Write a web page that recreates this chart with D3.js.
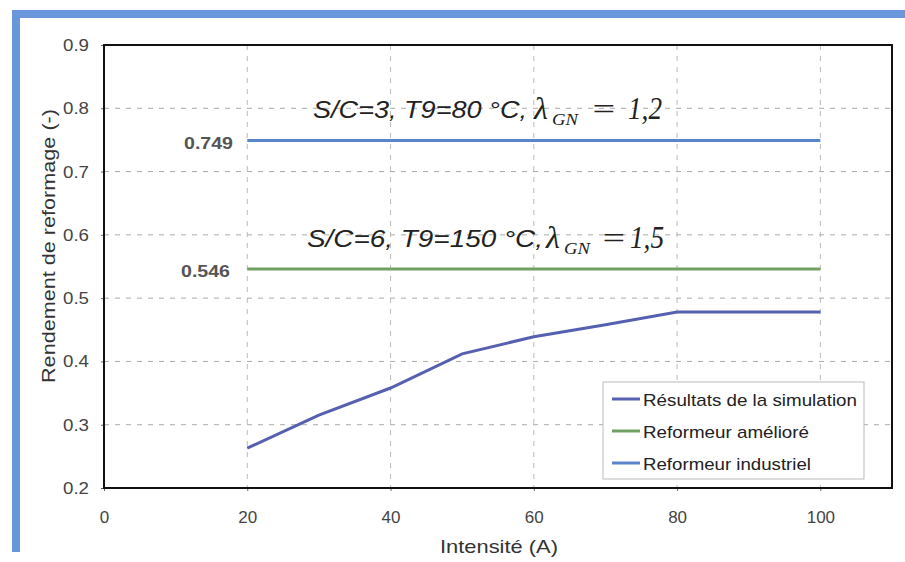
<!DOCTYPE html>
<html><head><meta charset="utf-8">
<script src="https://cdn.jsdelivr.net/npm/d3@7"></script>
<style>body{margin:0;background:#fff}svg{display:block}</style>
</head><body>
<svg id="c" width="905" height="562"></svg>
<script>
const xTicks = [0, 20, 40, 60, 80, 100];
const yTicks = [0.2, 0.3, 0.4, 0.5, 0.6, 0.7, 0.8, 0.9];
const simI = [20, 30, 40, 50, 60, 70, 80, 100];
const simR = [0.263, 0.315, 0.358, 0.412, 0.439, 0.458, 0.478, 0.478];
const refI = [20, 100];
const industriel = [0.749, 0.749];
const ameliore = [0.546, 0.546];
const legendNames = ["Résultats de la simulation", "Reformeur amélioré", "Reformeur industriel"];
const legendColors = ["#5560b0", "#72a062", "#5a84cc"];

const SANS = "Liberation Sans, Arial, sans-serif";
const SERIF = "Liberation Serif, Times New Roman, serif";
const svg = d3.select("#c");
const L = 104, R = 892, T = 45, B = 488;
const x = d3.scaleLinear().domain([0, 110]).range([L, R]);
const y = d3.scaleLinear().domain([0.2, 0.9]).range([B, T]);

// scan frame
svg.append("rect").attr("x", 12).attr("y", 10).attr("width", 893).attr("height", 8).attr("fill", "#6a96dc");
svg.append("rect").attr("x", 12).attr("y", 10).attr("width", 8).attr("height", 542).attr("fill", "#6a96dc");

// grid
const g = svg.append("g");
g.selectAll(".hg").data(yTicks.slice(1, -1)).join("line")
  .attr("x1", L).attr("x2", R).attr("y1", d => y(d)).attr("y2", d => y(d))
  .attr("stroke", "#aaa").attr("stroke-width", 1).attr("stroke-dasharray", "5,6");
g.selectAll(".vg").data(xTicks.slice(1)).join("line")
  .attr("y1", T).attr("y2", B).attr("x1", d => x(d)).attr("x2", d => x(d))
  .attr("stroke", "#bbb").attr("stroke-width", 1).attr("stroke-dasharray", "5,6");

// axes
const ax = svg.append("g").attr("transform", `translate(0,${B})`)
  .call(d3.axisBottom(x).tickValues(xTicks).tickSize(3).tickPadding(20).tickFormat(d3.format("d")));
const ay = svg.append("g").attr("transform", `translate(${L},0)`)
  .call(d3.axisLeft(y).tickValues(yTicks).tickSize(3).tickPadding(12).tickFormat(d3.format(".1f")));
[ax, ay].forEach(a => {
  a.select(".domain").remove();
  a.selectAll("text").attr("font-family", SANS).attr("font-size", 17).attr("fill", "#444");
  a.selectAll("line").attr("stroke", "#666");
});
ay.selectAll("text").attr("textLength", 26).attr("lengthAdjust", "spacingAndGlyphs");
svg.append("rect").attr("x", L).attr("y", T).attr("width", R - L).attr("height", B - T)
  .attr("fill", "none").attr("stroke", "#111").attr("stroke-width", 2);

// lines
const line = d3.line().x(d => x(d[0])).y(d => y(d[1]));
svg.append("path").datum(refI.map((v, i) => [v, industriel[i]])).attr("d", line)
  .attr("fill", "none").attr("stroke", legendColors[2]).attr("stroke-width", 3);
svg.append("path").datum(refI.map((v, i) => [v, ameliore[i]])).attr("d", line)
  .attr("fill", "none").attr("stroke", legendColors[1]).attr("stroke-width", 3);
svg.append("path").datum(simI.map((v, i) => [v, simR[i]])).attr("d", line)
  .attr("fill", "none").attr("stroke", legendColors[0]).attr("stroke-width", 3);

// value labels
[[industriel[0], 233], [ameliore[0], 230]].forEach(([v, xr]) => {
  svg.append("text").attr("x", xr).attr("y", y(v) + 8).attr("text-anchor", "end")
    .attr("font-family", SANS).attr("font-weight", "bold")
    .attr("font-size", 17).attr("fill", "#555")
    .attr("textLength", 49).attr("lengthAdjust", "spacingAndGlyphs")
    .text(d3.format(".3f")(v));
});

// annotations
function annot(x0, yb, main, mainLen, lx, ex, vx, val) {
  const gg = svg.append("g").attr("fill", "#222").attr("font-style", "italic");
  gg.append("text").attr("x", x0).attr("y", yb).attr("font-family", SANS).attr("font-size", 23)
    .attr("textLength", mainLen).attr("lengthAdjust", "spacingAndGlyphs").text(main);
  gg.append("text").attr("x", lx).attr("y", yb + 1).attr("font-family", SERIF).attr("font-size", 32).text("λ");
  gg.append("text").attr("x", lx + 18).attr("y", yb + 7).attr("font-family", SERIF).attr("font-size", 16)
    .attr("textLength", 26).attr("lengthAdjust", "spacingAndGlyphs").text("GN");
  gg.append("text").attr("x", ex).attr("y", yb + 1).attr("font-family", SERIF).attr("font-size", 30)
    .attr("textLength", 27).attr("lengthAdjust", "spacingAndGlyphs").text("=");
  gg.append("text").attr("x", vx).attr("y", yb + 1).attr("font-family", SERIF).attr("font-size", 31)
    .attr("textLength", 34).attr("lengthAdjust", "spacingAndGlyphs").text(val);
}
annot(313, 118, "S/C=3, T9=80 °C,", 214, 534, 590, 628, "1,2");
annot(307, 247, "S/C=6, T9=150 °C,", 236, 546, 600, 630, "1,5");

// legend
const lg = svg.append("g");
lg.append("rect").attr("x", 603).attr("y", 382).attr("width", 261).attr("height", 97)
  .attr("fill", "#fff").attr("stroke", "#bbb").attr("stroke-width", 1);
const legLens = [214, 166, 168];
legendNames.forEach((n, i) => {
  const yy = 399 + i * 32;
  lg.append("line").attr("x1", 612).attr("x2", 640).attr("y1", yy).attr("y2", yy)
    .attr("stroke", legendColors[i]).attr("stroke-width", 3);
  lg.append("text").attr("x", 643).attr("y", yy + 7).attr("font-family", SANS)
    .attr("font-size", 17).attr("fill", "#222")
    .attr("textLength", legLens[i]).attr("lengthAdjust", "spacingAndGlyphs").text(n);
});

// axis titles
svg.append("text").attr("x", 499).attr("y", 553).attr("text-anchor", "middle")
  .attr("font-family", SANS).attr("font-size", 19).attr("fill", "#333")
  .attr("textLength", 118).attr("lengthAdjust", "spacingAndGlyphs").text("Intensité (A)");
svg.append("text").attr("transform", "translate(55,246) rotate(-90)").attr("text-anchor", "middle")
  .attr("font-family", SANS).attr("font-size", 19).attr("fill", "#333")
  .attr("textLength", 274).attr("lengthAdjust", "spacingAndGlyphs").text("Rendement de reformage (-)");
</script>
</body></html>
